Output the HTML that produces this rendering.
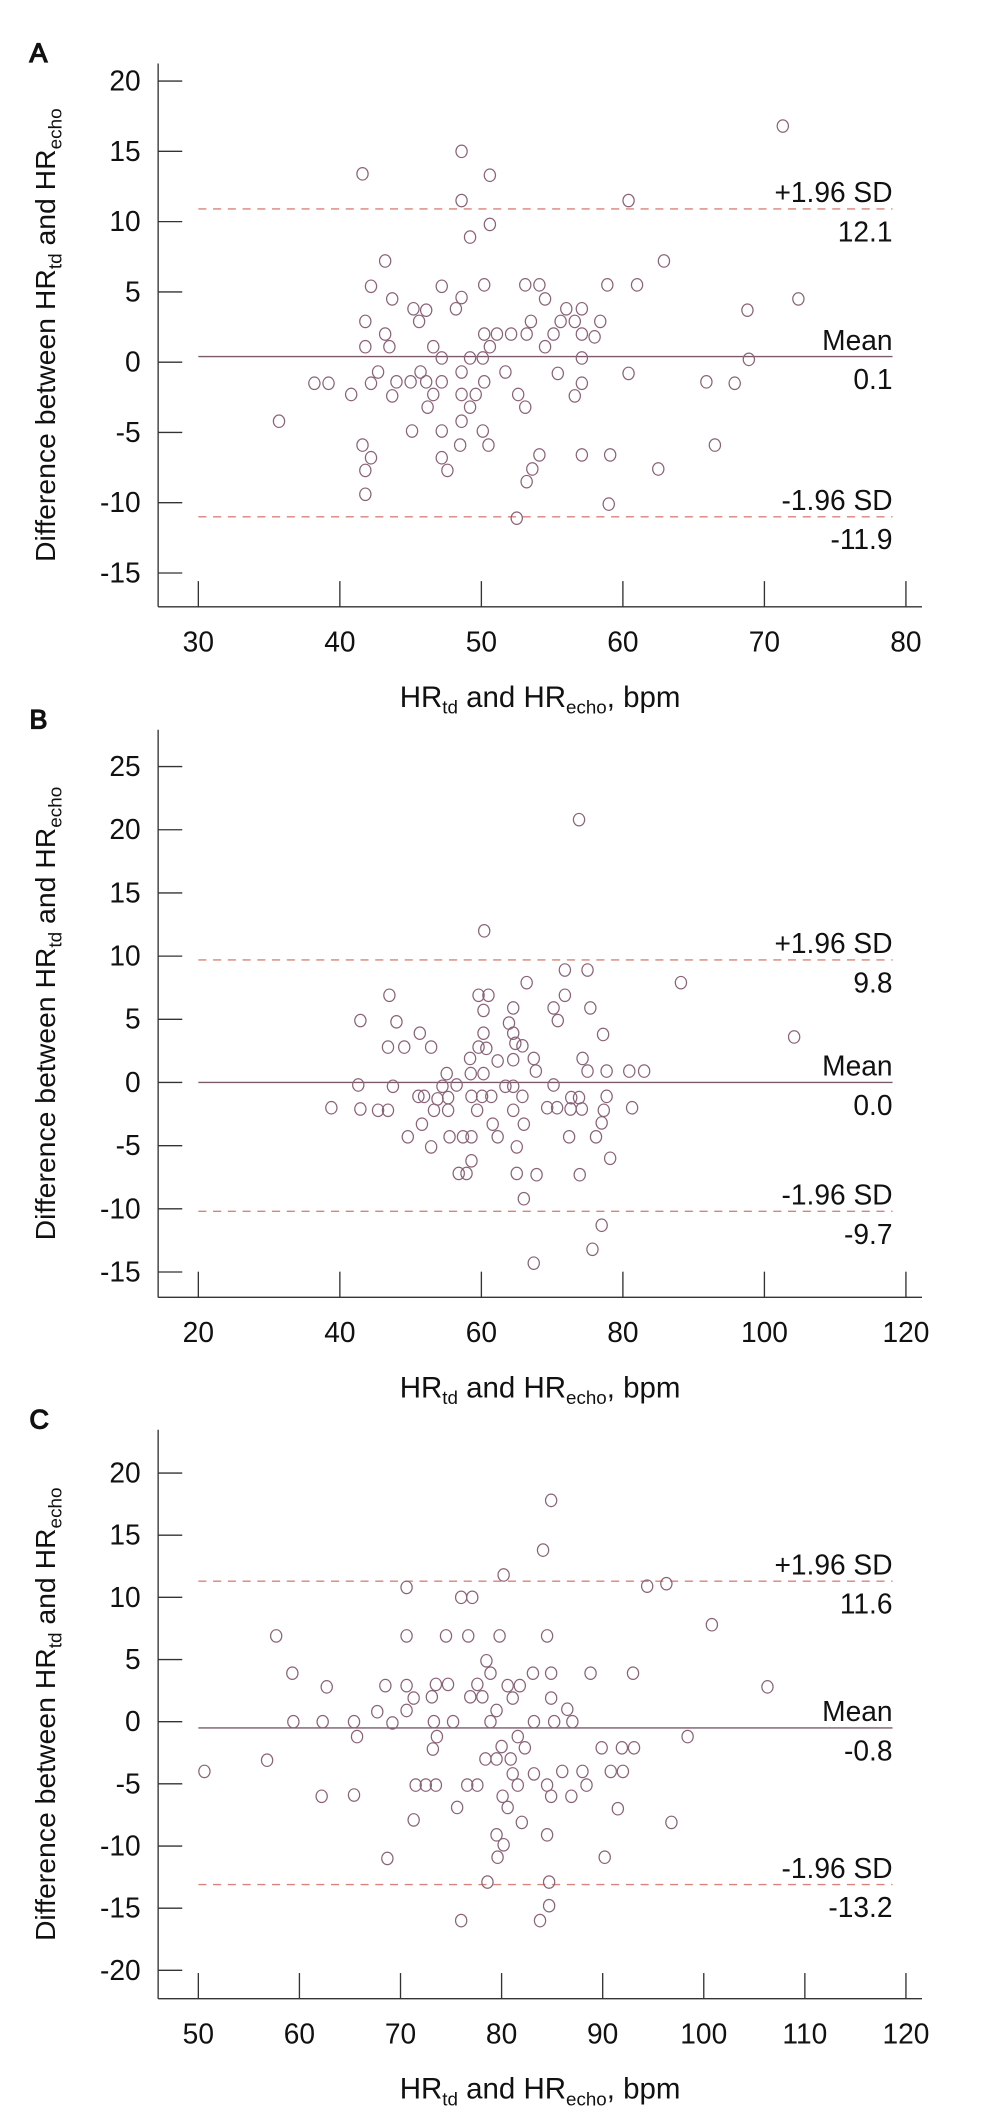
<!DOCTYPE html>
<html><head><meta charset="utf-8"><style>
html,body{margin:0;padding:0;background:#fff;}
svg{display:block;}
text{font-family:"Liberation Sans",sans-serif;fill:#111;}
</style></head><body>
<svg id="chart" width="985" height="2119" viewBox="0 0 735 1568" preserveAspectRatio="none" xmlns="http://www.w3.org/2000/svg"></svg>
<script>
const aX=[35.7,38.2,39.2,40.8,41.6,41.6,41.8,41.8,41.8,41.8,42.2,42.2,42.2,42.7,43.2,43.2,43.5,43.7,43.7,44.0,45.0,45.1,45.2,45.6,45.7,46.1,46.1,46.2,46.6,46.6,47.2,47.2,47.2,47.2,47.2,47.6,48.2,48.6,48.6,48.6,48.6,48.6,48.6,48.5,49.2,49.2,49.2,49.6,50.1,50.1,50.2,50.2,50.2,50.5,50.6,50.6,50.6,51.1,51.7,52.1,52.5,52.6,53.1,53.1,53.2,53.2,53.5,53.6,54.1,54.1,54.5,54.5,55.1,55.4,55.6,56.0,56.6,56.6,57.1,57.1,57.1,57.1,57.1,58.0,58.4,58.9,59.0,59.1,60.4,60.4,61.0,62.5,62.9,65.9,66.5,67.9,68.8,68.9,71.3,72.4];
const aY=[-4.2,-1.5,-1.5,-2.3,13.4,-5.9,2.9,1.1,-7.7,-9.4,5.4,-1.5,-6.8,-0.7,7.2,2.0,1.1,4.5,-2.4,-1.4,-1.4,-4.9,3.8,2.9,-0.7,3.7,-1.4,-3.2,1.1,-2.3,5.4,-1.4,0.3,-4.9,-6.8,-7.7,3.8,15.0,11.5,4.6,-0.7,-2.3,-4.2,-5.9,8.9,0.3,-3.2,-2.3,0.3,-4.9,5.5,2.0,-1.4,-5.9,13.3,9.8,1.1,2.0,-0.7,2.0,-11.1,-2.3,-3.2,5.5,2.0,-8.5,2.9,-7.6,5.5,-6.6,4.5,1.1,2.0,-0.8,2.9,3.8,2.9,-2.4,3.8,2.0,0.3,-1.5,-6.6,1.8,2.9,5.5,-10.1,-6.6,11.5,-0.8,5.5,-7.6,7.2,-1.4,-5.9,-1.5,3.7,0.2,16.8,4.5];
const bX=[38.8,42.9,42.9,42.6,45.4,46.8,47.0,46.8,47.5,48.0,49.1,49.6,51.3,51.1,51.9,51.6,52.9,52.9,53.3,53.8,54.5,55.1,55.3,55.3,55.5,56.5,56.8,57.9,57.4,58.6,58.6,58.4,58.5,58.6,59.4,59.6,61.0,60.3,60.4,60.3,59.6,60.7,60.3,60.1,61.4,61.6,62.3,62.3,63.4,63.9,64.5,64.5,64.8,65.8,64.5,64.5,64.5,65.0,65.0,65.8,66.0,66.0,66.4,67.4,67.4,67.7,67.8,69.3,70.2,70.2,70.7,70.8,71.8,71.8,72.4,72.6,72.7,73.8,73.8,73.9,74.3,74.2,75.0,75.0,75.4,76.2,75.7,77.0,77.0,77.2,77.3,77.7,77.7,78.2,80.9,81.3,83.0,88.2,104.2];
const bY=[-2.0,4.9,-2.1,-0.2,-2.2,-2.2,6.9,2.8,-0.3,4.8,2.8,-4.3,3.9,-1.1,-1.1,-3.3,2.8,-5.1,-2.2,-1.3,-0.3,0.7,-1.2,-2.2,-4.3,-0.2,-7.2,-7.2,-4.3,-4.3,-6.2,1.9,0.7,-1.1,-2.2,6.9,6.9,5.7,12.0,3.9,2.8,2.7,0.7,-1.1,-1.1,-3.3,1.7,-4.3,-0.3,4.7,5.9,3.9,3.1,2.9,1.8,-0.3,-2.2,-5.1,-7.2,-1.1,-3.3,-9.2,7.9,-14.3,1.9,0.9,-7.3,-2.0,5.9,-0.2,-2.0,4.9,8.9,6.9,-4.3,-2.1,-1.2,-1.2,20.8,-7.3,1.9,-2.1,8.9,0.9,5.9,-4.3,-13.2,-3.2,-11.3,3.8,-2.2,0.9,-1.1,-6.0,0.9,-2.0,0.9,7.9,3.6];
const cX=[50.6,56.8,57.7,59.3,59.4,62.2,62.3,62.7,65.4,65.4,65.7,67.7,68.5,68.7,69.2,70.6,70.6,70.6,70.6,71.3,71.3,71.5,72.5,73.1,73.2,73.3,73.5,73.6,73.5,74.5,74.7,75.2,75.6,76.0,77.1,76.0,76.7,76.6,76.9,77.6,77.6,78.1,78.4,78.5,78.6,78.9,78.9,79.5,79.5,79.5,79.6,79.8,80.0,80.1,80.2,80.2,80.6,80.6,80.9,81.1,81.1,81.6,81.6,81.8,82.0,82.3,83.1,83.2,83.2,83.8,84.1,84.5,84.5,84.5,84.7,84.7,84.9,84.9,84.9,84.9,85.2,86.0,86.5,86.9,87.0,88.0,88.4,88.8,89.9,90.2,90.8,91.5,91.9,92.0,93.0,93.1,94.4,96.3,96.8,98.4,100.8,106.3];
const cY=[-4.0,-3.1,6.9,3.9,0.0,-6.0,0.0,2.8,0.0,-5.9,-1.2,0.8,2.9,-11.0,-0.1,10.8,6.9,2.9,0.9,1.9,-7.9,-5.1,-5.1,2.0,-2.2,0.0,3.0,-1.2,-5.1,6.9,3.0,0.0,-6.9,10.0,10.0,-16.0,6.9,-5.1,2.0,3.0,-5.1,2.0,-3.0,4.9,-12.9,3.9,0.0,0.9,-3.0,-9.1,-10.9,6.9,-2.0,-6.0,11.8,-9.9,-6.9,2.9,-3.0,1.9,-4.2,-1.2,-5.1,2.9,-8.1,-2.1,3.9,0.0,-4.2,-16.0,13.8,6.9,-5.1,-9.1,-12.9,-14.8,17.8,3.9,1.9,-6.0,0.0,-4.0,1.0,-6.0,0.0,-4.0,-5.1,3.9,-2.1,-10.9,-4.0,-7.0,-2.1,-4.0,3.9,-2.1,10.9,11.1,-8.1,-1.2,7.8,2.8];
const aXTicks=[30,40,50,60,70,80], aYTicks=[20,15,10,5,0,-5,-10,-15];
const bXTicks=[20,40,60,80,100,120], bYTicks=[25,20,15,10,5,0,-5,-10,-15];
const cXTicks=[50,60,70,80,90,100,110,120], cYTicks=[20,15,10,5,0,-5,-10,-15,-20];
const aLines=[10.9,0.4,-11.0], aLabels=["12.1","0.1","-11.9"];
const bLines=[9.7,0.0,-10.2], bLabels=["9.8","0.0","-9.7"];
const cLines=[11.3,-0.5,-13.1], cLabels=["11.6","-0.8","-13.2"];

const NS="http://www.w3.org/2000/svg";
const svg=document.getElementById('chart');
function mk(tag,attrs,parent,txt){const e=document.createElementNS(NS,tag);for(const k in attrs)e.setAttribute(k,attrs[k]);if(txt!==undefined)e.textContent=txt;(parent||svg).appendChild(e);return e;}

function panel(id,letter,xs,ys,xT,yT,lines,labels,g){
  const G=mk('g',{});
  
  
  const X=v=>g.x0+(v-xT[0])*g.xs;
  const Y=v=>g.y0-v*g.ys;
  const L=mk('text',{x:22,y:g.top-1,'font-size':20,fill:'#fff',stroke:'#111','stroke-width':1},G,letter);
  
  
  const ya=mk('line',{x1:118,y1:g.top,x2:118,y2:g.bot,stroke:'#333','stroke-width':1},G);
  
  
  const xa=mk('line',{x1:118,y1:g.bot,x2:688,y2:g.bot,stroke:'#333','stroke-width':1},G);
  
  
  yT.forEach(v=>{
    const t=mk('line',{x1:118,y1:Y(v),x2:136,y2:Y(v),stroke:'#333','stroke-width':1},G);
    
    
    const l=mk('text',{x:105,y:Y(v)+7,'text-anchor':'end','font-size':21},G,String(v));
    
    
  });
  xT.forEach(v=>{
    const t=mk('line',{x1:X(v),y1:g.bot-19,x2:X(v),y2:g.bot,stroke:'#333','stroke-width':1},G);
    
    
    const l=mk('text',{x:X(v),y:g.bot+33,'text-anchor':'middle','font-size':21},G,String(v));
    
    
  });
  const names=['upper-limit','mean','lower-limit'];
  const tops=['+1.96 SD','Mean','-1.96 SD'];
  lines.forEach((v,i)=>{
    const ln=mk('line',{x1:148,y1:Y(v),x2:666,y2:Y(v),stroke:i==1?'#7a5a6a':'#d9837a','stroke-width':1,'stroke-dasharray':i==1?'none':'6,5'},G);
    
    
    const t1=mk('text',{x:666,y:Y(v)-5,'text-anchor':'end','font-size':21},G,tops[i]);
    
    
    const t2=mk('text',{x:666,y:Y(v)+24,'text-anchor':'end','font-size':21},G,labels[i]);
    
    
  });
  xs.forEach((v,i)=>{
    const c=mk('ellipse',{cx:X(v),cy:Y(ys[i]),rx:4.2,ry:4.6,fill:'none',stroke:'#8a6278','stroke-width':0.9},G);
    
    
  });
  const xl=mk('text',{x:403,y:g.bot+74,'text-anchor':'middle','font-size':22},G);
  
  
  xl.innerHTML='HR<tspan font-size="14" dy="5">td</tspan><tspan dy="-5"> and HR</tspan><tspan font-size="14" dy="5">echo</tspan><tspan dy="-5">, bpm</tspan>';
  const cy=(g.top+g.bot)/2;
  const yl=mk('text',{x:0,y:0,'text-anchor':'middle','font-size':21,transform:`translate(41,${cy}) rotate(-90)`},G);
  
  
  yl.innerHTML='Difference between HR<tspan font-size="14" dy="5">td</tspan><tspan dy="-5"> and HR</tspan><tspan font-size="14" dy="5">echo</tspan>';
}
panel('a','A',aX,aY,aXTicks,aYTicks,aLines,aLabels,{top:47,bot:449,x0:148,xs:10.56,y0:268,ys:10.4});
panel('b','B',bX,bY,bXTicks,bYTicks,bLines,bLabels,{top:540,bot:960,x0:148,xs:5.28,y0:801,ys:9.35});
panel('c','C',cX,cY,cXTicks,cYTicks,cLines,cLabels,{top:1058,bot:1479,x0:148,xs:7.543,y0:1274,ys:9.2});
</script>
</body></html>
